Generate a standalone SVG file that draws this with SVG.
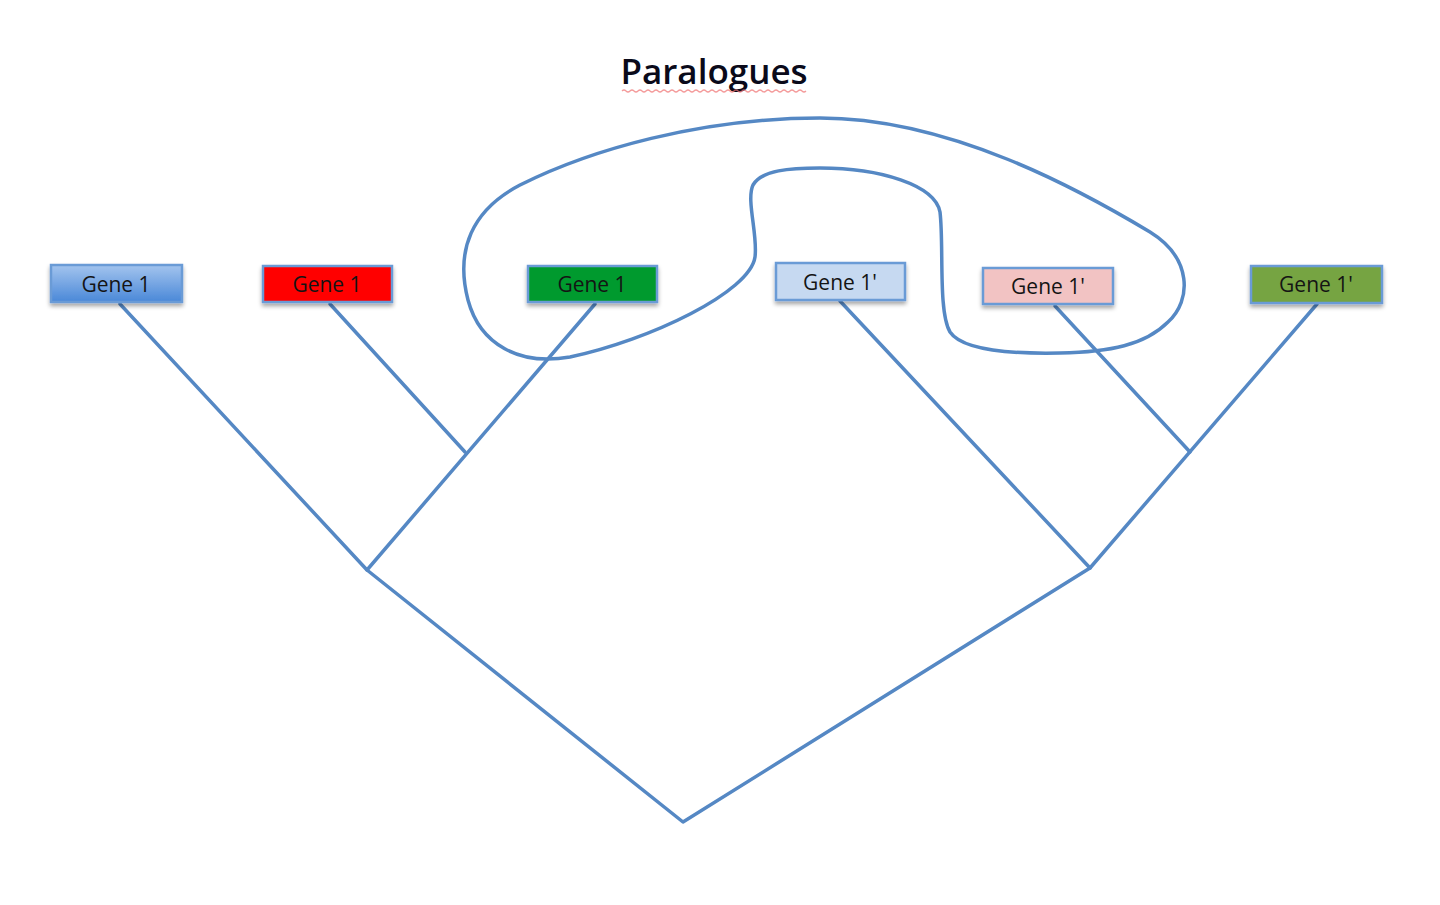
<svg xmlns="http://www.w3.org/2000/svg" width="1440" height="905" viewBox="0 0 1440 905">
<defs>
<linearGradient id="g1" x1="0" y1="0" x2="0" y2="1">
<stop offset="0" stop-color="#a3c4ee"/>
<stop offset="1" stop-color="#4a88d8"/>
</linearGradient>
<filter id="sh" x="-10%" y="-20%" width="120%" height="160%">
<feGaussianBlur in="SourceAlpha" stdDeviation="2"/>
<feOffset dx="0" dy="3" result="b"/>
<feComponentTransfer><feFuncA type="linear" slope="0.35"/></feComponentTransfer>
<feMerge><feMergeNode/><feMergeNode in="SourceGraphic"/></feMerge>
</filter>
</defs>
<style>
.box{stroke:#6b9bd6;stroke-width:2.5;filter:url(#sh)}
.lbl{font-family:"Open Sans","Liberation Sans",sans-serif;font-size:21px;fill:#141414;text-anchor:middle}
.ln{fill:none;stroke:#5588c4;stroke-width:3.5;stroke-linecap:round;stroke-linejoin:round}
.title{font-family:"Open Sans","Liberation Sans",sans-serif;font-size:35px;font-weight:600;fill:#0a0a1a;text-anchor:middle}
</style>
<rect width="1440" height="905" fill="#ffffff"/>
<g id="title">
<text class="title" x="714" y="84">Paralogues</text>
<path d="M622,91 q2,-2 4,0 t4,0 t4,0 t4,0 t4,0 t4,0 t4,0 t4,0 t4,0 t4,0 t4,0 t4,0 t4,0 t4,0 t4,0 t4,0 t4,0 t4,0 t4,0 t4,0 t4,0 t4,0 t4,0 t4,0 t4,0 t4,0 t4,0 t4,0 t4,0 t4,0 t4,0 t4,0 t4,0 t4,0 t4,0 t4,0 t4,0 t4,0 t4,0 t4,0 t4,0 t4,0 t4,0 t4,0 t4,0 t4,0" fill="none" stroke="#f07070" stroke-width="1.2" opacity="0.7"/>
</g>
<g id="connectors">
<path class="ln" d="M120,304 L367,570 L683,822 L1090,568 L840,301"/>
<path class="ln" d="M330,304 L465,452"/>
<path class="ln" d="M595,304 L367,570"/>
<path class="ln" d="M1055,306 L1190,452"/>
<path class="ln" d="M1317,304 L1090,568"/>
</g>
<g id="paralogue-loop">
<path class="ln" stroke-width="3" d="M820,118 C950,118 1080,190 1150,232 C1192,258 1192,300 1168,322 C1145,345 1110,352 1060,353 C1010,354 962,350 950,332 C938,312 944,245 940,212 C935,185 880,168 820,168 C790,168 762,170 753,185 C746,200 758,235 755,257 C750,292 650,340 570,357 C520,366 480,345 468,300 C455,250 472,210 520,185 C590,150 700,118 820,118 Z"/>
</g>
<g id="gene1-blue">
<rect class="box" x="51" y="265" width="131" height="37" fill="url(#g1)"/>
<text class="lbl" x="116" y="292">Gene 1</text>
</g>
<g id="gene1-red">
<rect class="box" x="263" y="266" width="129" height="36" fill="#ff0000"/>
<text class="lbl" x="327" y="292">Gene 1</text>
</g>
<g id="gene1-green">
<rect class="box" x="528" y="266" width="129" height="36" fill="#009a2e"/>
<text class="lbl" x="592" y="292">Gene 1</text>
</g>
<g id="gene1p-lightblue">
<rect class="box" x="776" y="263" width="129" height="37" fill="#c6d9f1"/>
<text class="lbl" x="840" y="290">Gene 1'</text>
</g>
<g id="gene1p-pink">
<rect class="box" x="983" y="268" width="130" height="36" fill="#f2c3c3"/>
<text class="lbl" x="1048" y="294">Gene 1'</text>
</g>
<g id="gene1p-olive">
<rect class="box" x="1251" y="266" width="131" height="37" fill="#76a443"/>
<text class="lbl" x="1316" y="292">Gene 1'</text>
</g>
</svg>
